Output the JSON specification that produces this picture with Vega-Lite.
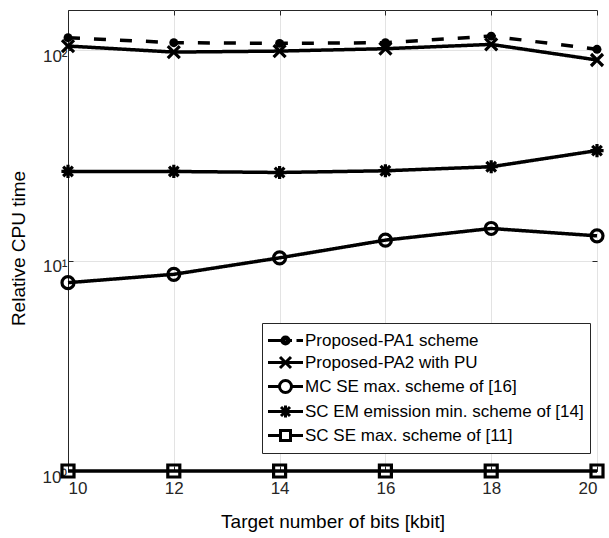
{
  "$schema": "https://vega.github.io/schema/vega-lite/v6.json",
  "width": 529,
  "height": 461,
  "autosize": "none",
  "padding": {"left": 68, "top": 10, "right": 12, "bottom": 67},
  "background": "white",
  "data": {"values": [
    {"x": 10, "s": "Proposed-PA1 scheme", "y": 114.5},
    {"x": 12, "s": "Proposed-PA1 scheme", "y": 108.4},
    {"x": 14, "s": "Proposed-PA1 scheme", "y": 107.6},
    {"x": 16, "s": "Proposed-PA1 scheme", "y": 108.4},
    {"x": 18, "s": "Proposed-PA1 scheme", "y": 116.5},
    {"x": 20, "s": "Proposed-PA1 scheme", "y": 100.8},
    {"x": 10, "s": "Proposed-PA2 with PU", "y": 104.5},
    {"x": 12, "s": "Proposed-PA2 with PU", "y": 97.8},
    {"x": 14, "s": "Proposed-PA2 with PU", "y": 98.9},
    {"x": 16, "s": "Proposed-PA2 with PU", "y": 101.5},
    {"x": 18, "s": "Proposed-PA2 with PU", "y": 106.4},
    {"x": 20, "s": "Proposed-PA2 with PU", "y": 89.7},
    {"x": 10, "s": "MC SE max. scheme of [16]", "y": 7.85},
    {"x": 12, "s": "MC SE max. scheme of [16]", "y": 8.6},
    {"x": 14, "s": "MC SE max. scheme of [16]", "y": 10.3},
    {"x": 16, "s": "MC SE max. scheme of [16]", "y": 12.5},
    {"x": 18, "s": "MC SE max. scheme of [16]", "y": 14.2},
    {"x": 20, "s": "MC SE max. scheme of [16]", "y": 13.1},
    {"x": 10, "s": "SC EM emission min. scheme of [14]", "y": 26.5},
    {"x": 12, "s": "SC EM emission min. scheme of [14]", "y": 26.5},
    {"x": 14, "s": "SC EM emission min. scheme of [14]", "y": 26.2},
    {"x": 16, "s": "SC EM emission min. scheme of [14]", "y": 26.7},
    {"x": 18, "s": "SC EM emission min. scheme of [14]", "y": 27.9},
    {"x": 20, "s": "SC EM emission min. scheme of [14]", "y": 33.3},
    {"x": 10, "s": "SC SE max. scheme of [11]", "y": 1},
    {"x": 12, "s": "SC SE max. scheme of [11]", "y": 1},
    {"x": 14, "s": "SC SE max. scheme of [11]", "y": 1},
    {"x": 16, "s": "SC SE max. scheme of [11]", "y": 1},
    {"x": 18, "s": "SC SE max. scheme of [11]", "y": 1},
    {"x": 20, "s": "SC SE max. scheme of [11]", "y": 1}
  ]},
  "encoding": {
    "x": {
      "field": "x", "type": "quantitative",
      "scale": {"domain": [10, 20], "nice": false, "zero": false},
      "axis": null
    },
    "y": {
      "field": "y", "type": "quantitative",
      "scale": {"type": "log", "domain": [1, 155], "nice": false},
      "axis": null
    }
  },
  "layer": [
    {
      "mark": {"type": "line", "color": "black", "strokeWidth": 3.5},
      "encoding": {
        "x": {
          "field": "x", "type": "quantitative",
          "scale": {"domain": [10, 20], "nice": false, "zero": false},
          "axis": {
            "title": "Target number of bits [kbit]",
            "values": [10, 12, 14, 16, 18, 20],
            "format": "d",
            "labelPadding": 14,
            "titleY": 56,
            "titleBaseline": "alphabetic"
          }
        },
        "y": {
          "field": "y", "type": "quantitative",
          "scale": {"type": "log", "domain": [1, 155], "nice": false},
          "axis": {
            "title": "Relative CPU time",
            "values": [1, 10, 100],
            "labelExpr": "datum.value == 1 ? '10⁰' : datum.value == 10 ? '10¹' : '10²'",
            "labelOffset": 6,
            "labelPadding": 6,
            "titleX": -44,
            "titleY": 238,
            "titleBaseline": "alphabetic"
          }
        },
        "strokeDash": {
          "field": "s", "type": "nominal",
          "scale": {
            "domain": ["Proposed-PA1 scheme", "Proposed-PA2 with PU", "MC SE max. scheme of [16]", "SC EM emission min. scheme of [14]", "SC SE max. scheme of [11]"],
            "range": [[12, 14], [1, 0], [1, 0], [1, 0], [1, 0]]
          },
          "legend": null
        }
      }
    },
    {
      "transform": [{"filter": "datum.s === 'Proposed-PA1 scheme'"}],
      "mark": {"type": "point", "shape": "circle", "filled": true, "color": "black", "size": 80, "opacity": 1}
    },
    {
      "transform": [{"filter": "datum.s !== 'Proposed-PA1 scheme'"}],
      "mark": {"type": "point", "filled": false, "color": "black", "strokeWidth": 3.2, "size": 144, "opacity": 1},
      "encoding": {
        "shape": {
          "field": "s", "type": "nominal",
          "scale": {
            "domain": ["Proposed-PA2 with PU", "MC SE max. scheme of [16]", "SC EM emission min. scheme of [14]", "SC SE max. scheme of [11]"],
            "range": [
              "M-1,-1L1,1M-1,1L1,-1",
              "M-1,0A1,1 0 1,0 1,0A1,1 0 1,0 -1,0Z",
              "M0,-1.1V1.1M-1.1,0H1.1M-0.8,-0.8L0.8,0.8M-0.8,0.8L0.8,-0.8",
              "M-1,-1H1V1H-1Z"
            ]
          },
          "legend": null
        }
      }
    },
    {
      "mark": {"type": "point", "stroke": "black", "strokeWidth": 3, "opacity": 0, "size": 400},
      "encoding": {
        "x": {
          "field": "x", "type": "quantitative",
          "scale": {"domain": [10, 20], "nice": false, "zero": false},
          "axis": {"orient": "top", "values": [10, 12, 14, 16, 18, 20], "labels": false, "title": null, "grid": false, "domain": false}
        },
        "y": {
          "field": "y", "type": "quantitative",
          "scale": {"type": "log", "domain": [1, 155], "nice": false},
          "axis": {"orient": "right", "values": [1, 10, 100], "labels": false, "title": null, "grid": false, "domain": false}
        },
        "shape": {
          "field": "s", "type": "nominal",
          "scale": {
            "domain": ["Proposed-PA1 scheme", "Proposed-PA2 with PU", "MC SE max. scheme of [16]", "SC EM emission min. scheme of [14]", "SC SE max. scheme of [11]"],
            "range": [
              "M-1.75,0H-0.45M0.45,0H0.65M1.1,0H1.75M-0.36,0A0.36,0.36 0 1,0 0.36,0A0.36,0.36 0 1,0 -0.36,0ZM-0.12,0A0.12,0.12 0 1,0 0.12,0A0.12,0.12 0 1,0 -0.12,0Z",
              "M-1.75,0H1.75M-0.55,-0.55L0.55,0.55M-0.55,0.55L0.55,-0.55",
              "M-1.75,0H-0.6M0.6,0H1.75M-0.6,0A0.6,0.6 0 1,0 0.6,0A0.6,0.6 0 1,0 -0.6,0Z",
              "M-1.75,0H1.75M0,-0.6V0.6M-0.45,-0.45L0.45,0.45M-0.45,0.45L0.45,-0.45",
              "M-1.75,0H-0.5M0.5,0H1.75M-0.5,-0.5H0.5V0.5H-0.5Z"
            ]
          },
          "legend": {
            "title": null,
            "symbolOpacity": 1,
            "encode": {
              "symbols": {
                "update": {
                  "fill": {"value": "transparent"},
                  "stroke": {"value": "black"},
                  "strokeWidth": {"value": 3},
                  "opacity": {"value": 1}
                }
              }
            }
          }
        }
      }
    }
  ],
  "resolve": {"scale": {"shape": "independent"}, "axis": {"x": "independent", "y": "independent"}},
  "config": {
    "font": "Liberation Sans",
    "view": {"stroke": "#262626", "strokeWidth": 1},
    "axis": {
      "labelFont": "Liberation Sans",
      "labelFontSize": 17,
      "labelColor": "#262626",
      "titleFont": "Liberation Sans",
      "titleFontSize": 19,
      "titleFontWeight": "normal",
      "titleColor": "black",
      "domainColor": "#262626",
      "tickColor": "#262626",
      "tickSize": -5,
      "gridColor": "#e3e3e3",
      "gridWidth": 1
    },
    "legend": {
      "orient": "none",
      "legendX": 194,
      "legendY": 313,
      "labelFont": "Liberation Sans",
      "labelFontSize": 17,
      "labelColor": "black",
      "labelLimit": 0,
      "symbolSize": 400,
      "symbolStrokeWidth": 3,
      "symbolStrokeColor": "black",
      "strokeColor": "#262626",
      "fillColor": "white",
      "padding": 6,
      "rowPadding": 0,
      "symbolOffset": 6,
      "labelOffset": 8
    }
  }
}
